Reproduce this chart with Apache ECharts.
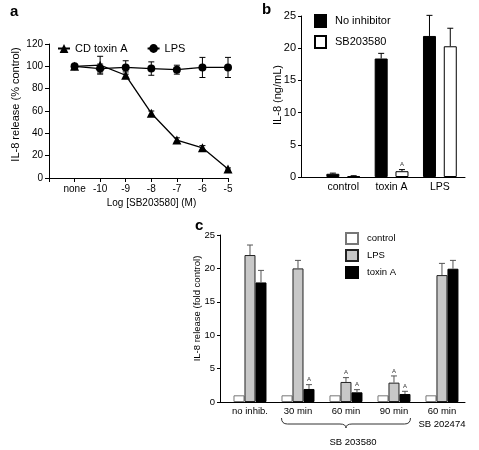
<!DOCTYPE html>
<html><head><meta charset="utf-8">
<script src="https://cdn.jsdelivr.net/npm/echarts@6/dist/echarts.min.js"></script>
<style>html,body{margin:0;padding:0;background:#fff}#c{width:479px;height:450px}</style>
</head><body><div id="c"></div>
<script>
// ---------- Panel a ----------
const aCats = ['none', '-10', '-9', '-8', '-7', '-6', '-5'];
const aNames = ['CD toxin A', 'LPS'];
const aToxin = [100, 101, 92, 58, 34, 27, 8];
const aToxinErr = [1, 8, 3, 2, 2, 2, 1];
const aLps = [100, 98, 99, 98, 97, 99, 99];
const aLpsErr = [1, 4, 6, 6, 4, 9, 9];
const aYTitle = 'IL-8 release (% control)';
const aXTitle = 'Log [SB203580] (M)';

// ---------- Panel b ----------
const bCats = ['control', 'toxin A', 'LPS'];
const bNames = ['No inhibitor', 'SB203580'];
const bNoInh = [0.5, 18.4, 21.9];
const bNoInhErr = [0.1, 0.8, 3.2];
const bSB = [0.15, 0.9, 20.3];
const bSBErr = [0.05, 0.25, 2.8];
const bSBSig = [0, 1, 0];
const bYTitle = 'IL-8 (ng/mL)';

// ---------- Panel c ----------
const cCats = ['no inhib.', '30 min', '60 min', '90 min', '60 min\nSB 202474'];
const cNames = ['control', 'LPS', 'toxin A'];
const cControl = [1, 1, 1, 1, 1];
const cLps = [22, 20, 3, 2.9, 19];
const cLpsErr = [1.5, 1.2, 0.65, 1.0, 1.75];
const cLpsSig = [0, 0, 1, 1, 0];
const cToxin = [17.9, 1.95, 1.45, 1.2, 19.95];
const cToxinErr = [1.8, 0.65, 0.4, 0.4, 1.25];
const cToxinSig = [0, 1, 1, 1, 0];
const cBrace = [2, 4];
const cBraceLabel = 'SB 203580';
const cYTitle = 'IL-8 release (fold control)';

const FONT = '"Liberation Sans", Arial, Helvetica, sans-serif';
const BLACK = '#000';

function pos(arr) { return arr.map((v, i) => [i + 1, v]); }

function errBars(o) {
  return {
    type: 'custom', xAxisIndex: o.xi, yAxisIndex: o.xi, silent: true, z: o.z || 3, clip: false,
    encode: { x: 0, y: 1 },
    data: o.ys.map((y, i) => [i + 1, y, o.errs[i], o.sig ? o.sig[i] : 0]),
    renderItem(params, api) {
      const x = api.value(0), y = api.value(1), e = api.value(2), s = api.value(3);
      const pTop = api.coord([x, y + e]);
      const pMid = api.coord([x, y]);
      const pBot = api.coord([x, y - e]);
      const cx = pMid[0] + (o.dx || 0);
      const h = o.cap / 2;
      const st = { stroke: o.color, lineWidth: o.lw || 1, fill: null };
      const ch = [];
      if (e > 0) {
        ch.push({ type: 'line', shape: { x1: cx, y1: o.both ? pBot[1] : pMid[1], x2: cx, y2: pTop[1] }, style: st });
        ch.push({ type: 'line', shape: { x1: cx - h, y1: pTop[1], x2: cx + h, y2: pTop[1] }, style: st });
        if (o.both) ch.push({ type: 'line', shape: { x1: cx - h, y1: pBot[1], x2: cx + h, y2: pBot[1] }, style: st });
      }
      if (s) ch.push({ type: 'text', style: { text: 'A', x: cx, y: pTop[1] - 2, align: 'center', verticalAlign: 'bottom', fontSize: 6, fontFamily: FONT, fill: '#333' } });
      return { type: 'group', children: ch };
    }
  };
}

function axisBase(extra) {
  return Object.assign({
    axisLine: { show: true, lineStyle: { color: BLACK, width: 1 } },
    axisTick: { show: true, length: 4, lineStyle: { color: BLACK, width: 1 } },
    splitLine: { show: false },
    nameMoveOverlap: false
  }, extra);
}

const chart = echarts.init(document.getElementById('c'), null, { renderer: 'canvas' });
chart.setOption({
  animation: false,
  backgroundColor: '#fff',
  textStyle: { fontFamily: FONT, color: BLACK },
  title: [
    { text: 'a', left: 10, top: 4, padding: 0, textStyle: { fontSize: 15, fontWeight: 'bold', fontFamily: FONT, color: BLACK } },
    { text: 'b', left: 262, top: 2, padding: 0, textStyle: { fontSize: 15, fontWeight: 'bold', fontFamily: FONT, color: BLACK } },
    { text: 'c', left: 195, top: 218, padding: 0, textStyle: { fontSize: 15, fontWeight: 'bold', fontFamily: FONT, color: BLACK } }
  ],
  legend: [
    { data: aNames.map(n => 'a:' + n), formatter: n => n.slice(2), left: 57, top: 43, padding: 0, orient: 'horizontal',
      itemWidth: 12, itemHeight: 11, itemGap: 19, selectedMode: false,
      textStyle: { fontSize: 11, fontFamily: FONT, color: BLACK } },
    { data: bNames.map(n => ({ name: 'b:' + n, icon: 'rect' })), formatter: n => n.slice(2), left: 314, top: 14, padding: 0, orient: 'vertical',
      itemWidth: 11, itemHeight: 12, itemGap: 7, selectedMode: false,
      textStyle: { fontSize: 11, fontFamily: FONT, color: BLACK, padding: [0, 0, 0, 4] } },
    { data: cNames.map(n => ({ name: 'c:' + n, icon: 'rect' })), formatter: n => n.slice(2), left: 345, top: 232, padding: 0, orient: 'vertical',
      itemWidth: 12, itemHeight: 11, itemGap: 4, selectedMode: false,
      textStyle: { fontSize: 9.5, fontFamily: FONT, color: BLACK, padding: [0, 0, 0, 4] } }
  ],
  grid: [
    { left: 49, right: 251, top: 44, bottom: 272, outerBoundsMode: 'none' },
    { left: 301, right: 14, top: 16, bottom: 273, outerBoundsMode: 'none' },
    { left: 220, right: 14, top: 235, bottom: 48, outerBoundsMode: 'none' }
  ],
  xAxis: [
    axisBase({ gridIndex: 0, type: 'value', min: 0, max: 7, interval: 1,
      axisLabel: { color: BLACK, fontSize: 10, fontFamily: FONT, margin: 6, formatter: v => aCats[v - 1] || '' },
      name: aXTitle, nameLocation: 'middle', nameGap: 20,
      nameTextStyle: { fontSize: 10, fontFamily: FONT, color: BLACK, padding: [0, 0, 0, 26] } }),
    axisBase({ gridIndex: 1, type: 'value', min: 0.125, max: 3.52,
      axisTick: { show: false },
      axisLabel: { color: BLACK, fontSize: 10.5, fontFamily: FONT, margin: 5, customValues: [1, 2, 3],
        formatter: v => bCats[Math.round(v) - 1] || '' } }),
    axisBase({ gridIndex: 2, type: 'value', min: 0.375, max: 5.48,
      axisTick: { show: false },
      axisLabel: { color: BLACK, fontSize: 9.5, lineHeight: 13, fontFamily: FONT, margin: 3, customValues: [1, 2, 3, 4, 5],
        formatter: v => cCats[Math.round(v) - 1] || '' } })
  ],
  yAxis: [
    axisBase({ gridIndex: 0, type: 'value', min: 0, max: 120, interval: 20,
      axisLabel: { color: BLACK, fontSize: 10, fontFamily: FONT, margin: 6 },
      name: aYTitle, nameLocation: 'middle', nameGap: 28,
      nameTextStyle: { fontSize: 11, fontFamily: FONT, color: BLACK, padding: [0, 0, 0, 13] } }),
    axisBase({ gridIndex: 1, type: 'value', min: 0, max: 25, interval: 5,
      axisTick: { show: true, length: 3, lineStyle: { color: BLACK } },
      axisLabel: { color: BLACK, fontSize: 11, fontFamily: FONT, margin: 5 },
      name: bYTitle, nameLocation: 'middle', nameGap: 18,
      nameTextStyle: { fontSize: 11, fontFamily: FONT, color: BLACK, padding: [0, 0, 0, 3] } }),
    axisBase({ gridIndex: 2, type: 'value', min: 0, max: 25, interval: 5,
      axisTick: { show: true, length: 3, lineStyle: { color: BLACK } },
      axisLabel: { color: BLACK, fontSize: 9.5, fontFamily: FONT, margin: 5 },
      name: cYTitle, nameLocation: 'middle', nameGap: 18,
      nameTextStyle: { fontSize: 9.5, fontFamily: FONT, color: BLACK, padding: [0, 0, 0, 20] } })
  ],
  series: [
    // panel a error bars
    errBars({ xi: 0, ys: aLps, errs: aLpsErr, cap: 6, both: true, color: BLACK, z: 2 }),
    errBars({ xi: 0, ys: aToxin, errs: aToxinErr, cap: 6, both: true, color: BLACK, z: 2 }),
    { type: 'line', name: 'a:' + aNames[1], xAxisIndex: 0, yAxisIndex: 0, data: pos(aLps),
      symbol: 'circle', symbolSize: 8, lineStyle: { color: BLACK, width: 1.2 }, itemStyle: { color: BLACK }, z: 4 },
    { type: 'line', name: 'a:' + aNames[0], xAxisIndex: 0, yAxisIndex: 0, data: pos(aToxin),
      symbol: 'triangle', symbolSize: 9, lineStyle: { color: BLACK, width: 1.3 }, itemStyle: { color: BLACK }, z: 5 },

    // panel b
    { type: 'bar', name: 'b:' + bNames[0], xAxisIndex: 1, yAxisIndex: 1, data: pos(bNoInh),
      barWidth: 13, barGap: '60%', itemStyle: { color: BLACK, borderColor: BLACK, borderWidth: 1 } },
    { type: 'bar', name: 'b:' + bNames[1], xAxisIndex: 1, yAxisIndex: 1, data: pos(bSB),
      barWidth: 13, barGap: '60%', itemStyle: { color: '#fff', borderColor: BLACK, borderWidth: 1 } },
    errBars({ xi: 1, ys: bNoInh, errs: bNoInhErr, dx: -10.4, cap: 6, color: BLACK }),
    errBars({ xi: 1, ys: bSB, errs: bSBErr, dx: 10.4, cap: 6, color: BLACK, sig: bSBSig }),

    // panel c
    { type: 'bar', name: 'c:' + cNames[0], xAxisIndex: 2, yAxisIndex: 2, data: pos(cControl),
      barWidth: 11, barGap: '0%', itemStyle: { color: '#fff', borderColor: '#777', borderWidth: 1 } },
    { type: 'bar', name: 'c:' + cNames[1], xAxisIndex: 2, yAxisIndex: 2, data: pos(cLps),
      barWidth: 11, barGap: '0%', itemStyle: { color: '#c8c8c8', borderColor: '#222', borderWidth: 1 } },
    { type: 'bar', name: 'c:' + cNames[2], xAxisIndex: 2, yAxisIndex: 2, data: pos(cToxin),
      barWidth: 11, barGap: '0%', itemStyle: { color: BLACK, borderColor: BLACK, borderWidth: 1 } },
    errBars({ xi: 2, ys: cLps, errs: cLpsErr, dx: 0, cap: 6, color: '#555', sig: cLpsSig }),
    errBars({ xi: 2, ys: cToxin, errs: cToxinErr, dx: 11, cap: 6, color: '#555', sig: cToxinSig }),
    {
      type: 'custom', xAxisIndex: 2, yAxisIndex: 2, silent: true, clip: false, z: 3,
      data: [[cBrace[0], cBrace[1]]],
      renderItem(params, api) {
        const pa = api.coord([api.value(0), 0]);
        const pb = api.coord([api.value(1), 0]);
        const x0 = pa[0] - 16.5, x1 = pb[0] + 16.5, xm = (x0 + x1) / 2, base = pa[1];
        const yT = base + 16, yM = base + 22, yB = base + 26, r = 6;
        const st = { stroke: '#333', lineWidth: 1, fill: null };
        return { type: 'group', children: [
          { type: 'bezierCurve', shape: { x1: x0, y1: yT, cpx1: x0, cpy1: yM, x2: x0 + r, y2: yM }, style: st },
          { type: 'line', shape: { x1: x0 + r, y1: yM, x2: xm - r, y2: yM }, style: st },
          { type: 'bezierCurve', shape: { x1: xm - r, y1: yM, cpx1: xm, cpy1: yM, x2: xm, y2: yB }, style: st },
          { type: 'bezierCurve', shape: { x1: xm, y1: yB, cpx1: xm, cpy1: yM, x2: xm + r, y2: yM }, style: st },
          { type: 'line', shape: { x1: xm + r, y1: yM, x2: x1 - r, y2: yM }, style: st },
          { type: 'bezierCurve', shape: { x1: x1 - r, y1: yM, cpx1: x1, cpy1: yM, x2: x1, y2: yT }, style: st },
          { type: 'text', style: { text: cBraceLabel, x: xm + 7, y: base + 40, align: 'center', verticalAlign: 'middle',
            fontSize: 9.5, fontFamily: FONT, fill: BLACK } }
        ] };
      }
    }
  ]
});
</script>
</body></html>
